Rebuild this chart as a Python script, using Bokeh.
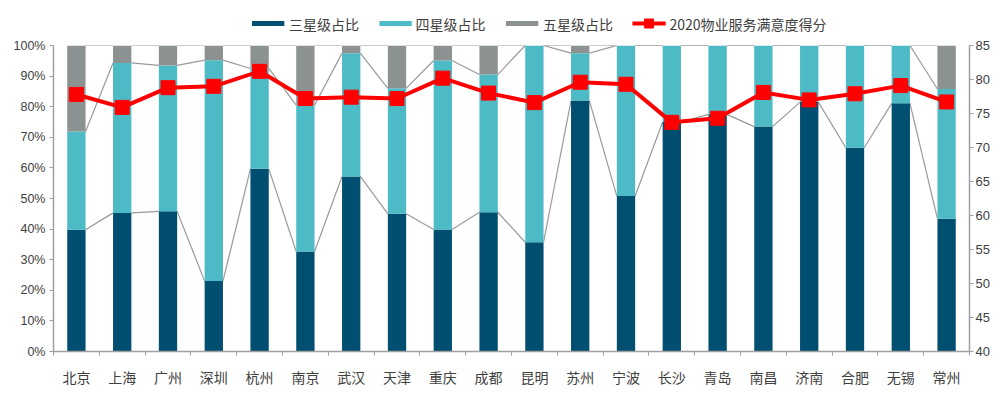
from bokeh.plotting import figure
from bokeh.layouts import column
from bokeh.models import (Range1d, LinearAxis, FixedTicker, NumeralTickFormatter,
                          ColumnDataSource)
from bokeh.core.properties import value
from bokeh.embed import file_html
from bokeh.resources import INLINE

# ---------------- data ----------------
cities = ["北京", "上海", "广州", "深圳", "杭州", "南京", "武汉", "天津", "重庆", "成都",
          "昆明", "苏州", "宁波", "长沙", "青岛", "南昌", "济南", "合肥", "无锡", "常州"]
three_star = [39.8, 45.3, 45.8, 23.0, 59.7, 32.7, 57.2, 45.0, 39.9, 45.5,
              35.7, 82.0, 50.8, 75.0, 77.5, 73.5, 81.5, 66.6, 81.1, 43.4]
four_star = [32.1, 49.0, 47.7, 72.2, 32.8, 47.8, 40.3, 41.0, 55.2, 45.0,
             64.3, 15.5, 49.2, 25.0, 22.5, 26.5, 18.5, 33.4, 18.9, 42.4]
five_star = [28.1, 5.7, 6.5, 4.8, 7.5, 19.5, 2.5, 14.0, 4.9, 9.5,
             0.0, 2.5, 0.0, 0.0, 0.0, 0.0, 0.0, 0.0, 0.0, 14.2]
score_2020 = [77.8, 75.9, 78.8, 79.0, 81.2, 77.2, 77.4, 77.2, 80.2, 78.0,
              76.6, 79.6, 79.3, 73.7, 74.3, 78.1, 77.0, 77.9, 79.1, 76.7]
left_ticks = [0, 10, 20, 30, 40, 50, 60, 70, 80, 90, 100]
right_ticks = [40, 45, 50, 55, 60, 65, 70, 75, 80, 85]
legend_labels = ["三星级占比", "四星级占比", "五星级占比", "2020物业服务满意度得分"]

# ---------------- style ----------------
C3, C4, C5, CR = "#004f71", "#4dbbc6", "#8c9191", "#ff0000"
AXIS = "#a0a0a0"
TXT = "#404040"
CJK = "Noto Sans CJK SC"
NUM = "Liberation Sans"
BAR_W = 0.4
W = 992
LEG_H = 35

n = len(cities)
xs = list(range(n))
src = ColumnDataSource(dict(
    x=xs,
    three=[v / 100 for v in three_star],
    four=[v / 100 for v in four_star],
    five=[v / 100 for v in five_star],
    score=score_2020,
))

# ---------------- legend strip (its own small figure, pixel coordinates) ----------------
lg = figure(width=W, height=LEG_H, x_range=Range1d(0, W), y_range=Range1d(LEG_H, 0),
            output_backend="svg", toolbar_location=None,
            x_axis_location=None, y_axis_location=None,
            min_border_left=0, min_border_right=0, min_border_top=0, min_border_bottom=0)
lg.outline_line_color = None
lg.xgrid.visible = False
lg.ygrid.visible = False
patch_x0 = [215, 353, 490, 627]   # left end of each legend key
key_len = [35, 35, 35, 36]
text_x = [255, 392, 530, 667]
leg_y = 23
lg.segment(x0=patch_x0, y0=[leg_y] * 4,
           x1=[a + b for a, b in zip(patch_x0, key_len)], y1=[leg_y] * 4,
           line_color=[C3, C4, C5, CR], line_width=[5, 5, 5, 4])
lg.scatter(x=[patch_x0[3] + key_len[3] / 2], y=[leg_y], marker="square", size=9,
           fill_color=CR, line_color=CR)
lg.text(x=text_x, y=[leg_y] * 4, text=legend_labels, text_font=value(CJK),
        text_font_size=value("14px"), text_color=TXT, text_baseline="middle",
        text_align="left")

# ---------------- main chart ----------------
p = figure(width=W, height=354, x_range=Range1d(-0.5, n - 0.5), y_range=Range1d(0, 1),
           output_backend="svg", toolbar_location=None,
           min_border_left=53, min_border_right=20, min_border_top=10, min_border_bottom=38)
p.extra_y_ranges = {"score": Range1d(40, 85)}
p.outline_line_color = None
p.xgrid.visible = False
p.ygrid.visible = False

# series lines (connect stacked levels between adjacent bars)
lvl1 = [a / 100 for a in three_star]
lvl2 = [(a + b) / 100 for a, b in zip(three_star, four_star)]
lvl3 = [(a + b + c) / 100 for a, b, c in zip(three_star, four_star, five_star)]
for lvl in (lvl1, lvl2, lvl3):
    p.segment(x0=[i + BAR_W / 2 for i in xs[:-1]], y0=lvl[:-1],
              x1=[i + 1 - BAR_W / 2 for i in xs[:-1]], y1=lvl[1:],
              line_color="#999999", line_width=1.2)

p.vbar_stack(["three", "four", "five"], x="x", width=BAR_W, source=src,
             color=[C3, C4, C5], line_color=None)

p.line("x", "score", source=src, y_range_name="score", line_color=CR, line_width=4)
p.scatter("x", "score", source=src, y_range_name="score", marker="square",
          size=14, fill_color=CR, line_color=CR)

# axes
xa = p.xaxis[0]
xa.ticker = FixedTicker(ticks=xs, minor_ticks=[i - 0.5 for i in range(n + 1)])
xa.major_label_overrides = {i: c for i, c in enumerate(cities)}
xa.major_tick_line_color = None
xa.major_tick_out = 0
xa.major_tick_in = 0
xa.minor_tick_out = 4
xa.minor_tick_in = 0
xa.minor_tick_line_color = AXIS
xa.axis_line_color = AXIS
xa.axis_line_width = 1.5
xa.major_label_standoff = 11
xa.major_label_text_font = CJK
xa.major_label_text_font_size = "14px"
xa.major_label_text_color = TXT

ya = p.yaxis[0]
ya.ticker = FixedTicker(ticks=[t / 100 for t in left_ticks])
ya.formatter = NumeralTickFormatter(format="0%")
ya.minor_tick_line_color = None
ya.major_tick_out = 4
ya.major_tick_in = 0
ya.major_tick_line_color = AXIS
ya.axis_line_color = AXIS
ya.axis_line_width = 1.5
ya.major_label_standoff = 4
ya.major_label_text_font = NUM
ya.major_label_text_font_size = "12.5px"
ya.major_label_text_color = TXT

yr = LinearAxis(y_range_name="score", ticker=FixedTicker(ticks=right_ticks))
yr.minor_tick_line_color = None
yr.major_tick_out = 4
yr.major_tick_in = 0
yr.major_tick_line_color = AXIS
yr.axis_line_color = AXIS
yr.axis_line_width = 1.5
yr.major_label_standoff = 2
yr.major_label_text_font = NUM
yr.major_label_text_font_size = "13px"
yr.major_label_text_color = TXT
p.add_layout(yr, "right")

layout = column(lg, p, spacing=0)
open("out.html", "w").write(file_html(layout, INLINE))
